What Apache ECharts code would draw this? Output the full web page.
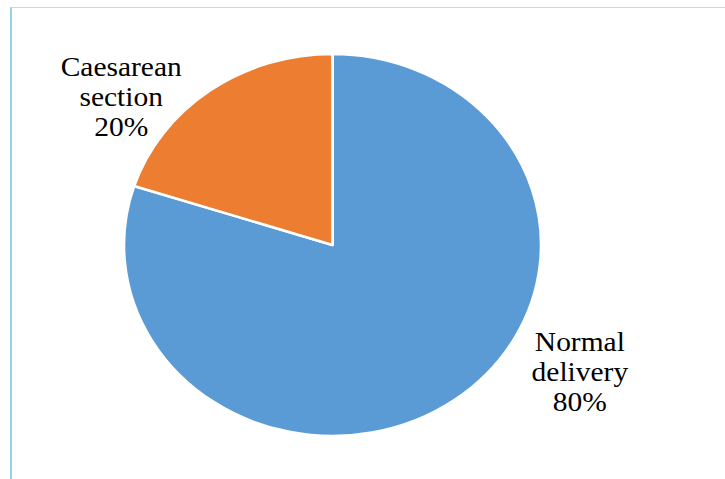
<!DOCTYPE html>
<html>
<head>
<meta charset="utf-8">
<script src="https://cdn.jsdelivr.net/npm/echarts@6/dist/echarts.min.js"></script>
<style>
  html, body { margin: 0; padding: 0; background: #fff; overflow: hidden; }
  .frame {
    position: absolute; left: 10px; top: 7px; width: 730px; height: 480px;
    border-left: 2px solid #93d4e7; border-top: 1px solid #b6e0eb;
  }
  /* the reference is stretched sideways, text included */
  .chart {
    position: absolute; left: 0; top: 0; width: 664px; height: 479px;
    transform: scaleX(1.092); transform-origin: 0 0;
  }
</style>
</head>
<body>
<div class="frame"></div>
<div class="chart" id="main"></div>
<script>
  var categories = ["Normal delivery", "Caesarean section"];
  var values = [80, 20];
  var colors = ["#5b9bd5", "#ed7d31"];
  // where each label sits (unstretched chart coords)
  var labelSpots = [[531, 372], [111, 97]];

  var chart = echarts.init(document.getElementById("main"), null, { renderer: "svg" });

  var option = {
    animation: false,
    textStyle: { fontFamily: "Liberation Serif" },
    series: [
      {
        type: "pie",
        center: [304.5, 245],
        radius: 191,
        startAngle: 90,
        clockwise: true,
        itemStyle: { borderColor: "#fff", borderWidth: 2.5 },
        labelLine: { show: false },
        label: {
          show: true,
          position: "outside",
          fontFamily: "Liberation Serif",
          fontSize: 27,
          lineHeight: 30,
          color: "#000",
          align: "center",
          formatter: function (p) {
            return p.name.replace(" ", "\n") + "\n" + p.percent + "%";
          }
        },
        labelLayout: function (p) {
          var s = labelSpots[p.dataIndex];
          return { x: s[0], y: s[1], align: "center", verticalAlign: "middle" };
        },
        emphasis: { disabled: true },
        data: categories.map(function (c, i) {
          return { name: c, value: values[i], itemStyle: { color: colors[i] } };
        })
      }
    ]
  };

  chart.setOption(option);
</script>
</body>
</html>
